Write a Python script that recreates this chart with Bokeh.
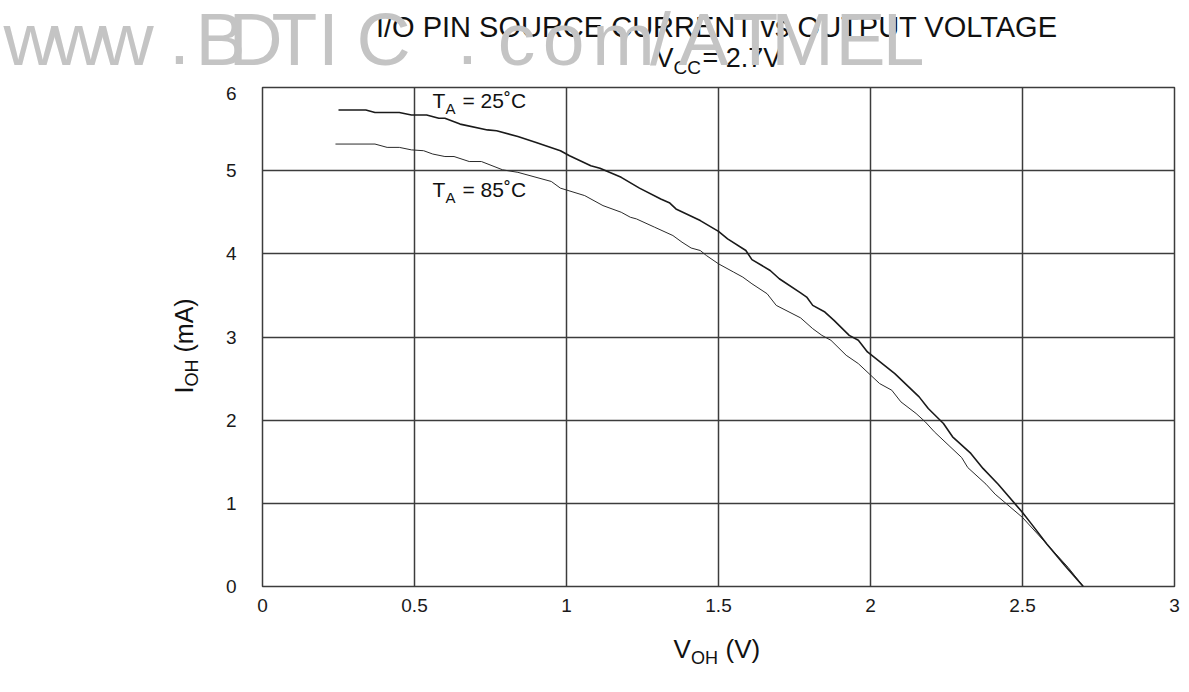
import math
from bokeh.plotting import figure
from bokeh.layouts import column, row
from bokeh.models import Label, FixedTicker, NumeralTickFormatter, Range1d
from bokeh.embed import file_html
from bokeh.resources import INLINE

# ---------------- data ----------------
x_ticks = [0, 0.5, 1, 1.5, 2, 2.5, 3]
y_ticks = [0, 1, 2, 3, 4, 5, 6]

v_25 = [0.25, 0.34, 0.37, 0.45, 0.49, 0.54, 0.58, 0.60, 0.65, 0.74,
        0.77, 0.84, 0.90, 0.98, 1.01, 1.08, 1.11, 1.18, 1.24, 1.31,
        1.34, 1.36, 1.44, 1.50, 1.53, 1.59, 1.61, 1.67, 1.70, 1.77,
        1.79, 1.81, 1.85, 1.88, 1.93, 1.96, 1.99, 2.08, 2.16, 2.19,
        2.24, 2.27, 2.33, 2.37, 2.42, 2.50, 2.53, 2.58, 2.64, 2.70]
i_25 = [5.73, 5.73, 5.70, 5.70, 5.67, 5.67, 5.63, 5.63, 5.56, 5.49,
        5.48, 5.41, 5.34, 5.24, 5.18, 5.06, 5.03, 4.92, 4.79, 4.66,
        4.61, 4.54, 4.40, 4.27, 4.18, 4.04, 3.93, 3.80, 3.70, 3.53,
        3.48, 3.38, 3.30, 3.20, 3.02, 2.96, 2.82, 2.56, 2.28, 2.14,
        1.96, 1.80, 1.60, 1.42, 1.23, 0.89, 0.75, 0.51, 0.25, 0.00]

v_85 = [0.24, 0.37, 0.41, 0.45, 0.49, 0.53, 0.56, 0.60, 0.63, 0.68,
        0.72, 0.79, 0.84, 0.95, 0.98, 1.06, 1.12, 1.18, 1.21, 1.23,
        1.29, 1.35, 1.38, 1.41, 1.44, 1.46, 1.50, 1.55, 1.58, 1.61,
        1.66, 1.69, 1.77, 1.81, 1.84, 1.87, 1.92, 1.96, 2.03, 2.07,
        2.10, 2.15, 2.18, 2.21, 2.30, 2.32, 2.38, 2.41, 2.50, 2.59,
        2.65, 2.70]
i_85 = [5.32, 5.32, 5.28, 5.28, 5.25, 5.24, 5.20, 5.17, 5.17, 5.11,
        5.11, 5.01, 4.98, 4.87, 4.79, 4.70, 4.58, 4.50, 4.44, 4.42,
        4.32, 4.22, 4.14, 4.07, 4.04, 3.98, 3.88, 3.78, 3.72, 3.64,
        3.52, 3.38, 3.23, 3.10, 3.02, 2.96, 2.78, 2.68, 2.44, 2.36,
        2.22, 2.08, 1.98, 1.86, 1.55, 1.43, 1.23, 1.11, 0.83, 0.47,
        0.23, 0.00]

title_text = "I/O PIN SOURCE CURRENT vs OUTPUT VOLTAGE"
watermark = "www.BDTIC.com/ATMEL"

# ---------------- layout geometry (picture pixels) ----------------
FONT = "Liberation Sans"
W, H = 1185, 688
FX0, FX1, FY0, FY1 = 262, 1174, 586, 87     # plot frame edges
TOP_H = 86                                   # title strip height
LEFT_W = 210                                 # y-label strip width
MAIN_BOTTOM = 626                            # bottom of main figure
MAIN_H = MAIN_BOTTOM - TOP_H
BOT_H = H - MAIN_BOTTOM
K = 0.41                                     # baseline correction (fraction of font size)


def strip(w, h):
    f = figure(width=w, height=h, output_backend="svg", toolbar_location=None,
               title=None, x_range=Range1d(0, w), y_range=Range1d(0, h),
               min_border=0, x_axis_location=None, y_axis_location=None)
    f.grid.visible = False
    f.outline_line_color = None
    f.background_fill_color = "white"
    f.border_fill_color = "white"
    return f


def put(f, x0, y0, px, py, text, size, color="#111111", align="left",
        font=FONT, level="annotation"):
    """Horizontal text with its baseline at picture pixel (px, py)."""
    f.add_layout(Label(x=px - x0, y=y0 - py + K * size, x_units="screen", y_units="screen",
                       text=text, text_font=font, text_font_size=f"{size}px",
                       text_color=color, text_align=align,
                       text_baseline="alphabetic", level=level))


def put_up(f, x0, y0, px, py, text, size, color="#111111"):
    """Text reading upward, baseline at x = px, starting at y = py."""
    f.add_layout(Label(x=px - x0 - K * size, y=y0 - py - 38, x_units="screen", y_units="screen",
                       text=text, text_font=FONT, text_font_size=f"{size}px",
                       text_color=color, text_align="left",
                       text_baseline="alphabetic", angle=math.pi / 2))


# ---- top strip: title, subtitle, watermark ----
top = strip(W, TOP_H)
put(top, 0, TOP_H, 716.5, 38, title_text, 29, align="center")
put(top, 0, TOP_H, 655, 69, "V", 27)
put(top, 0, TOP_H, 673, 75, "CC", 19)
put(top, 0, TOP_H, 702, 69, "= 2.7V", 27)
wm_centers = [30, 78, 126, 179, 220, 255, 294, 328, 383, 467,
              516, 563, 623, 660, 703, 755, 802, 860, 903]
for ch, cx in zip(watermark, wm_centers):
    put(top, 0, TOP_H, cx, 69, ch, 75, color="#c4c4c4", align="center", level="overlay")

# ---- left strip: y axis label ----
left = strip(LEFT_W, MAIN_H)
put_up(left, 0, MAIN_BOTTOM, 194, 395, "I", 25)
put_up(left, 0, MAIN_BOTTOM, 199, 388, "OH", 18)
put_up(left, 0, MAIN_BOTTOM, 194, 354, "(mA)", 25)

# ---- bottom strip: x axis label ----
bot = strip(W, BOT_H)
put(bot, 0, H, 673, 659, "V", 26)
put(bot, 0, H, 690.5, 665, "OH", 18)
put(bot, 0, H, 725, 659, "(V)", 26)

# ---- main chart ----
p = figure(width=W - LEFT_W, height=MAIN_H, output_backend="svg", toolbar_location=None,
           title=None, x_range=Range1d(0, 3), y_range=Range1d(0, 6),
           min_border_left=FX0 - LEFT_W, min_border_right=W - FX1,
           min_border_top=FY1 - TOP_H, min_border_bottom=MAIN_BOTTOM - FY0)
p.background_fill_color = "white"
p.border_fill_color = "white"
p.outline_line_color = "#3c3c3c"
p.outline_line_width = 1.5

for ax, ticks in ((p.xaxis, x_ticks), (p.yaxis, y_ticks)):
    ax.ticker = FixedTicker(ticks=ticks)
    ax.axis_line_color = None
    ax.major_tick_line_color = None
    ax.minor_tick_line_color = None
    ax.major_label_text_font = FONT
    ax.major_label_text_font_size = "19px"
    ax.major_label_text_color = "#1a1a1a"
p.xaxis.formatter = NumeralTickFormatter(format="0.[0]")
p.xaxis.major_label_standoff = 6
p.yaxis.major_label_standoff = 20

p.xgrid.ticker = FixedTicker(ticks=x_ticks)
p.ygrid.ticker = FixedTicker(ticks=y_ticks)
for g in (p.xgrid, p.ygrid):
    g.grid_line_color = "#3c3c3c"
    g.grid_line_width = 1.5
    g.grid_line_alpha = 1.0

p.line(v_85, i_85, line_color="#2a2a2a", line_width=1.0)
p.line(v_25, i_25, line_color="#1a1a1a", line_width=1.6)

# curve labels (screen units relative to the frame's bottom-left)
put(p, FX0, FY0, 432, 109, "T", 21)
put(p, FX0, FY0, 445, 114, "A", 15)
put(p, FX0, FY0, 462, 109, "= 25˚C", 21)
put(p, FX0, FY0, 432, 198, "T", 21)
put(p, FX0, FY0, 445, 203, "A", 15)
put(p, FX0, FY0, 462, 198, "= 85˚C", 21)

layout = column(top, row(left, p), bot)
open("out.html", "w").write(file_html(layout, INLINE))
